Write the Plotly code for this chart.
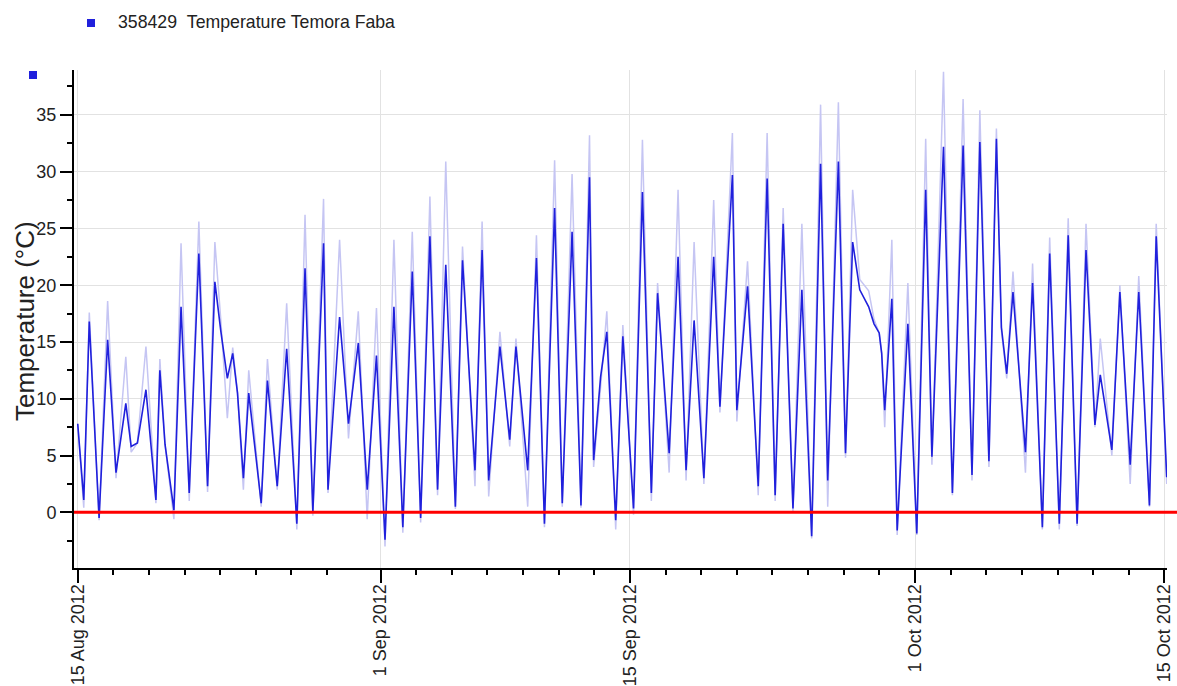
import pandas as pd
import plotly.graph_objs as go

start = pd.Timestamp("2012-08-15")

# days after 15 Aug 2012 00:00
turn_day = [0.00, 0.34, 0.65, 1.20, 1.68, 2.15, 2.70, 3.00, 3.35, 3.83,
            4.39, 4.61, 4.90, 5.40, 5.80, 6.26, 6.80, 7.29, 7.70, 8.03,
            8.40, 8.70, 8.97, 9.30, 9.60, 10.30, 10.65, 11.20, 11.73, 12.30,
            12.76, 13.20, 13.80, 14.05, 14.70, 15.20, 15.75, 16.25, 16.77, 17.25,
            17.75, 18.25, 18.78, 19.25, 19.77, 20.20, 20.66, 21.20, 21.60, 22.30,
            22.70, 23.07, 23.70, 24.25, 24.60, 25.26, 25.75, 26.20, 26.77, 27.20,
            27.75, 28.25, 28.73, 28.96, 29.35, 29.70, 30.20, 30.60, 31.20, 31.70,
            32.20, 32.55, 33.20, 33.70, 34.15, 34.60, 35.15, 35.70, 36.05, 36.75,
            37.00, 37.60, 38.20, 38.70, 39.15, 39.60, 40.15, 40.65, 41.20, 41.70,
            42.10, 42.70, 43.10, 43.50, 43.90, 44.40, 44.70, 44.99, 45.13, 45.30,
            45.70, 46.00, 46.60, 47.10, 47.60, 47.95, 48.60, 49.10, 49.70, 50.20,
            50.64, 51.15, 51.57, 51.85, 52.15, 52.50, 53.20, 53.60, 54.15, 54.56,
            55.10, 55.60, 56.10, 56.60, 57.10, 57.40, 58.05, 58.50, 59.08, 59.56,
            60.16, 60.54, 61.13]

# hourly series (dark line)
temp_hourly = [7.8, 1.1, 16.8, -0.5, 15.2, 3.5, 9.6, 5.8, 6.1, 10.8,
               1.1, 12.5, 6.0, 0.2, 18.1, 1.7, 22.8, 2.3, 20.3, 16.0,
               11.8, 14.0, 10.5, 3.0, 10.5, 0.8, 11.6, 2.3, 14.4, -1.0,
               21.5, 0.0, 23.7, 2.0, 17.2, 7.8, 14.9, 2.0, 13.8, -2.4,
               18.1, -1.3, 21.2, -0.5, 24.3, 2.0, 21.8, 0.5, 22.2, 3.7,
               23.1, 2.8, 14.6, 6.4, 14.6, 3.7, 22.4, -1.0, 26.8, 0.8,
               24.7, 0.6, 29.5, 4.6, 11.9, 15.9, -0.7, 15.5, 0.35, 28.2,
               1.7, 19.3, 5.2, 22.5, 3.7, 16.9, 3.0, 22.5, 9.3, 29.7,
               9.0, 19.9, 2.3, 29.4, 1.5, 25.4, 0.35, 19.6, -2.1, 30.7,
               2.8, 30.9, 5.2, 23.8, 19.6, 18.1, 16.6, 15.8, 14.0, 9.0,
               18.8, -1.6, 16.6, -1.85, 28.4, 4.9, 32.2, 1.7, 32.3, 3.3,
               32.6, 4.5, 32.9, 16.3, 12.2, 19.4, 5.3, 20.2, -1.3, 22.8,
               -1.0, 24.4, -1.0, 23.1, 7.7, 12.1, 5.5, 19.4, 4.2, 19.4,
               0.6, 24.3, 3.1]

# raw readings (light line behind)
temp_raw = [7.8, 0.4, 17.6, -0.7, 18.6, 3.0, 13.7, 5.3, 6.1, 14.6,
            0.8, 13.5, 6.0, -0.6, 23.7, 1.0, 25.6, 1.8, 23.8, 17.0,
            8.3, 14.5, 10.5, 2.0, 12.5, 0.5, 13.5, 2.0, 18.4, -1.5,
            26.2, -0.3, 27.6, 1.7, 24.0, 6.5, 17.7, -0.6, 18.0, -3.0,
            24.0, -1.8, 24.7, -0.9, 27.8, 1.5, 30.9, 0.3, 23.4, 2.3,
            25.6, 1.4, 15.9, 5.8, 15.3, 0.5, 24.4, -1.3, 31.0, 0.5,
            29.8, 0.4, 33.2, 4.0, 11.0, 17.7, -1.5, 16.5, -0.2, 32.8,
            1.0, 20.2, 3.5, 28.4, 2.8, 23.8, 2.5, 27.5, 8.8, 33.4,
            8.0, 22.1, 1.5, 33.4, 1.0, 26.8, 0.1, 25.4, -2.3, 35.9,
            0.5, 36.1, 4.8, 28.4, 20.5, 19.5, 17.0, 15.8, 14.0, 7.5,
            24.0, -2.0, 20.2, -2.0, 32.9, 4.2, 38.8, 1.5, 36.4, 2.8,
            35.4, 4.0, 33.8, 16.0, 11.8, 21.2, 3.5, 21.9, -1.5, 24.2,
            -1.5, 25.9, -1.2, 25.4, 7.5, 15.3, 5.0, 20.0, 2.5, 20.8,
            0.5, 25.4, 2.5]

major_dates = ["2012-08-15", "2012-09-01", "2012-09-15", "2012-10-01", "2012-10-15"]
major_labels = ["15 Aug 2012", "1 Sep 2012", "15 Sep 2012", "1 Oct 2012", "15 Oct 2012"]
series_name = "358429\u00a0\u00a0Temperature Temora Faba"

times = start + pd.to_timedelta(turn_day, unit="D")

# minor ticks on the odd days of each month (no 31st)
all_days = pd.date_range("2012-08-15", "2012-10-15", freq="D")
minor_dates = [d for d in all_days if d.day % 2 == 1 and d.day != 31
               and d.strftime("%Y-%m-%d") not in major_dates]

# --- layout in pixels ---
W, H = 1177, 686
L, R, T, B = 74, 10, 70, 118
pw, ph = W - L - R, H - T - B


def px(x):
    return (x - L) / pw


def py(y):
    return (H - B - y) / ph


FONT = "Liberation Sans, Arial, sans-serif"
BLUE = "#2020dc"
TXT = "#222222"

fig = go.Figure()
fig.add_trace(go.Scatter(x=times, y=temp_raw, mode="lines",
                         line=dict(color="#c5c5f3", width=1.5), hoverinfo="skip"))
fig.add_trace(go.Scatter(x=times, y=temp_hourly, mode="lines", name=series_name,
                         line=dict(color=BLUE, width=1.6)))

fig.update_layout(
    width=W, height=H,
    margin=dict(l=L, r=R, t=T, b=B, autoexpand=False),
    plot_bgcolor="white", paper_bgcolor="white",
    showlegend=False,
    font=dict(family=FONT, size=18, color=TXT),
)

fig.update_xaxes(
    automargin=False,
    range=["2012-08-14 19:00", "2012-10-15 03:30"],
    tickmode="array", tickvals=major_dates, ticktext=major_labels,
    tickangle=-90, ticks="outside", ticklen=13, tickwidth=1.5, tickcolor="black",
    tickfont=dict(size=18), ticklabelstandoff=-6,
    showgrid=True, gridcolor="#e2e2e2", gridwidth=1,
    showline=True, linecolor="black", linewidth=2,
    zeroline=False,
    minor=dict(tickmode="array", tickvals=minor_dates, ticks="outside",
               ticklen=5, tickwidth=1.5, tickcolor="black", showgrid=False),
)
fig.update_yaxes(
    automargin=False,
    range=[-4.9, 38.95],
    tick0=0, dtick=5, ticks="outside", ticklen=12, tickwidth=1.5, tickcolor="black",
    tickfont=dict(size=18),
    showgrid=True, gridcolor="#e2e2e2", gridwidth=1,
    showline=True, linecolor="black", linewidth=2,
    zeroline=False,
    minor=dict(tick0=0, dtick=2.5, ticks="outside", ticklen=5, tickwidth=1.5,
               tickcolor="black", showgrid=False),
)

# zero line in red, running past the plot edge
fig.add_shape(type="line", xref="paper", yref="y", x0=0, x1=px(W), y0=0, y1=0,
              line=dict(color="#ff0000", width=3))

# legend square and axis marker
fig.add_shape(type="rect", xref="paper", yref="paper",
              x0=px(87), x1=px(95), y0=py(27), y1=py(19),
              fillcolor=BLUE, line=dict(width=0))
fig.add_shape(type="rect", xref="paper", yref="paper",
              x0=px(29), x1=px(37), y0=py(79), y1=py(71),
              fillcolor=BLUE, line=dict(width=0))

fig.add_annotation(text=series_name, xref="paper", yref="paper",
                   x=px(116), y=py(22), xanchor="left", yanchor="middle",
                   showarrow=False, font=dict(size=17.7, color=TXT))
fig.add_annotation(text="Temperature (°C)", xref="paper", yref="paper",
                   x=px(25), y=py(321), xanchor="center", yanchor="middle",
                   textangle=-90, showarrow=False, font=dict(size=26, color=TXT))

# page without the default body margin so the figure sits at the window corner
fig.write_html("out.html", config={"displayModeBar": False},
               post_script="document.body.style.margin='0';")
